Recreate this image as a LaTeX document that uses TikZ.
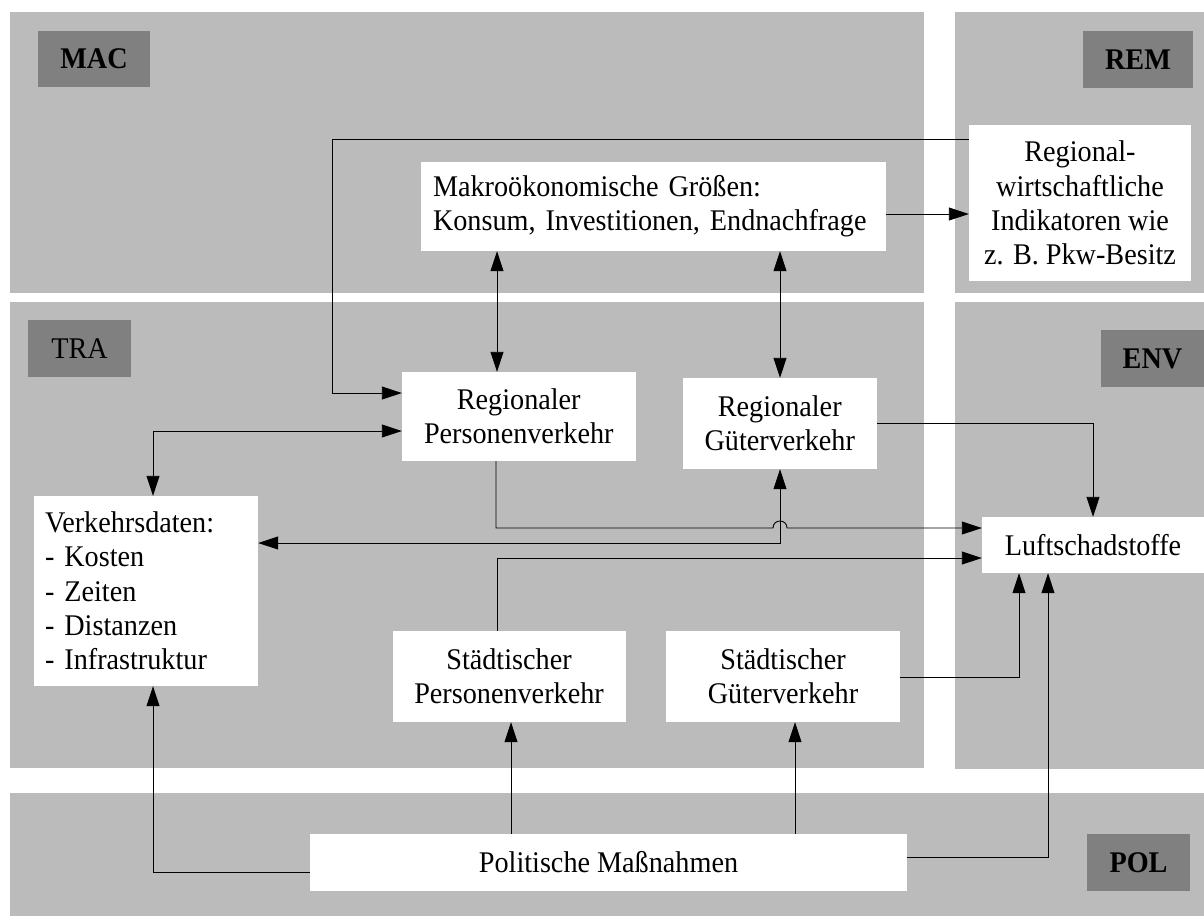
\documentclass[tikz,border=0pt]{standalone}
\usepackage{fontspec}
\setmainfont[FakeStretch=0.94]{Liberation Serif}
\usetikzlibrary{arrows.meta}
\definecolor{panelgray}{HTML}{BBBBBB}
\definecolor{taggray}{HTML}{808080}
\newcommand\diafont{\fontsize{30}{34.3}\selectfont}
\begin{document}
\begin{tikzpicture}[x=1pt,y=-1pt,
  panel/.style={fill=panelgray,draw=none},
  tag/.style={fill=taggray,inner sep=0pt,font=\diafont\bfseries},
  plaintag/.style={fill=taggray,inner sep=0pt,font=\diafont},
  box/.style={fill=white,inner sep=0pt,align=center,font=\diafont},
  leftbox/.style={fill=white,inner ysep=0pt,align=left,font=\diafont},
  link/.style={draw=black,line width=0.9pt},
  tip/.style={-{Triangle[length=20pt,width=13pt]}},
  tipboth/.style={{Triangle[length=20pt,width=13pt]}-{Triangle[length=20pt,width=13pt]}}]
\useasboundingbox (0,0) rectangle (1204,916);

% module panels
\fill[panel] (10,12) rectangle (924,293);
\fill[panel] (955,12) rectangle (1204,293);
\fill[panel] (10,302) rectangle (924,768);
\fill[panel] (955,302) rectangle (1204,769);
\fill[panel] (10,793) rectangle (1204,916);

% module tags
\node[tag,minimum width=112pt,minimum height=56pt] (tmac) at (94,59) {MAC};
\node[tag,minimum width=110pt,minimum height=57pt] (trem) at (1138,59.5) {REM};
\node[plaintag,minimum width=103pt,minimum height=57pt] (ttra) at (79.5,348.5) {TRA};
\node[tag,minimum width=103pt,minimum height=57pt] (tenv) at (1152.5,358.5) {ENV};
\node[tag,minimum width=103pt,minimum height=57pt] (tpol) at (1138.5,862.5) {POL};

% content boxes
\node[leftbox,text width=441pt,inner xsep=12pt,minimum height=89pt] (mak) at (653.5,206.5)
  {Makroökonomische Größen:\\Konsum, Investitionen, Endnachfrage};
\node[box,minimum width=222pt,minimum height=156pt] (remi) at (1080,203)
  {Regional-\\wirtschaftliche\\Indikatoren wie\\z. B. Pkw-Besitz};
\node[box,minimum width=233.5pt,minimum height=89pt] (rp) at (518.75,416.5)
  {Regionaler\\Personenverkehr};
\node[box,minimum width=193.5pt,minimum height=91pt] (rg) at (779.75,423.5)
  {Regionaler\\Güterverkehr};
\node[leftbox,text width=202pt,inner xsep=11pt,minimum height=190pt] (vd) at (146,591)
  {Verkehrsdaten:\\- Kosten\\- Zeiten\\- Distanzen\\- Infrastruktur};
\node[box,minimum width=222pt,minimum height=56pt] (luft) at (1093,545) {Luftschadstoffe};
\node[box,minimum width=233pt,minimum height=91pt] (sp) at (509,676.5)
  {Städtischer\\Personenverkehr};
\node[box,minimum width=234pt,minimum height=91pt] (sg) at (783,676.5)
  {Städtischer\\Güterverkehr};
\node[box,minimum width=597pt,minimum height=57pt] (pol) at (608.5,862.5)
  {Politische Maßnahmen};

% routing points
\coordinate (r1) at (332,139);
\coordinate (r2) at (332,393);
\coordinate (c2) at (153,431);
\coordinate (c3) at (497,0);
\coordinate (c4) at (780,0);
\coordinate (c5) at (0,214);
\coordinate (c6) at (0,423);
\coordinate (c7) at (496,528);
\coordinate (h1) at (773,528);
\coordinate (h2) at (787,528);
\coordinate (c8) at (780,543);
\coordinate (c9) at (497,558);
\coordinate (c10) at (1019,677);
\coordinate (c11) at (1048,857);
\coordinate (c12) at (511,0);
\coordinate (c13) at (795,0);
\coordinate (c14) at (153,872);

% connectors
\draw[link,tip] (remi.west |- r1) -- (r1) -- (r2) -- (rp.west |- r2);
\draw[link,tipboth] (vd.north -| c2) |- (rp.west |- c2);
\draw[link,tipboth] (mak.south -| c3) -- (rp.north -| c3);
\draw[link,tipboth] (mak.south -| c4) -- (rg.north -| c4);
\draw[link,tip] (mak.east |- c5) -- (remi.west |- c5);
\draw[link,tip] (rg.east |- c6) -| (luft.north);
\draw[link,tip] (rp.south -| c7) -- (c7) -- (h1)
  .. controls ([yshift=9.3pt]h1) and ([yshift=9.3pt]h2) .. (h2) -- (luft.west |- c7);
\draw[link,tipboth] (vd.east |- c8) -- (c8) -- (rg.south -| c8);
\draw[link,tip] (sp.north -| c9) |- (luft.west |- c9);
\draw[link,tip] (sg.east |- c10) -| (luft.south -| c10);
\draw[link,tip] (pol.east |- c11) -| (luft.south -| c11);
\draw[link,tip] (pol.north -| c12) -- (sp.south -| c12);
\draw[link,tip] (pol.north -| c13) -- (sg.south -| c13);
\draw[link,tip] (pol.west |- c14) -| (vd.south -| c14);
\end{tikzpicture}
\end{document}
